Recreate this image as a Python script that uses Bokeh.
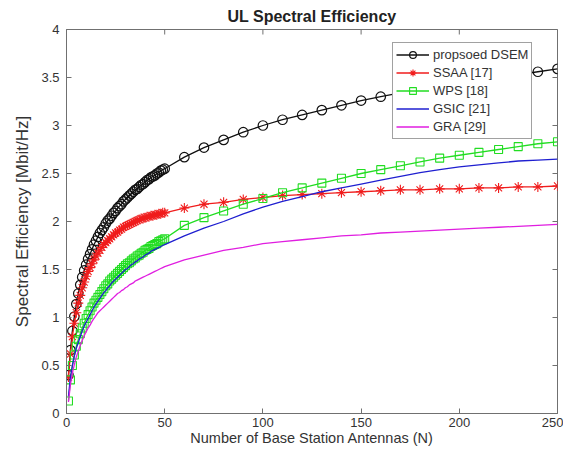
from math import pi
from bokeh.plotting import figure
from bokeh.models import FixedTicker, CustomJSTickFormatter, Legend
from bokeh.embed import file_html
from bokeh.resources import INLINE

# Number of base station antennas
N = [1, 2, 3, 4, 5, 6, 7, 8, 9, 10,
     11, 12, 13, 14, 15, 16, 17, 18, 19, 20,
     21, 22, 23, 24, 25, 26, 27, 28, 29, 30,
     31, 32, 33, 34, 35, 36, 37, 38, 39, 40,
     41, 42, 43, 44, 45, 46, 47, 48, 49, 50,
     60, 70, 80, 90, 100, 110, 120, 130, 140, 150,
     160, 170, 180, 190, 200, 210, 220, 230, 240, 250]

dsem = [0.40, 0.66, 0.86, 1.01, 1.14, 1.25, 1.34, 1.42, 1.49, 1.55,
        1.61, 1.66, 1.71, 1.76, 1.80, 1.84, 1.88, 1.91, 1.94, 1.98,
        2.01, 2.03, 2.06, 2.09, 2.11, 2.14, 2.16, 2.18, 2.21, 2.23,
        2.25, 2.27, 2.29, 2.31, 2.33, 2.34, 2.36, 2.38, 2.39, 2.41,
        2.43, 2.44, 2.46, 2.47, 2.48, 2.50, 2.51, 2.53, 2.54, 2.55,
        2.67, 2.77, 2.85, 2.93, 3.00, 3.06, 3.11, 3.16, 3.21, 3.26,
        3.30, 3.34, 3.37, 3.41, 3.44, 3.47, 3.50, 3.53, 3.56, 3.59]

ssaa = [0.38, 0.62, 0.80, 0.94, 1.05, 1.15, 1.23, 1.31, 1.37, 1.43,
        1.48, 1.52, 1.56, 1.60, 1.64, 1.67, 1.70, 1.73, 1.76, 1.78,
        1.80, 1.82, 1.84, 1.86, 1.88, 1.89, 1.91, 1.92, 1.94, 1.95,
        1.96, 1.97, 1.98, 1.99, 2.00, 2.01, 2.02, 2.03, 2.03, 2.04,
        2.05, 2.05, 2.06, 2.06, 2.07, 2.07, 2.08, 2.08, 2.09, 2.09,
        2.14, 2.18, 2.20, 2.23, 2.25, 2.27, 2.28, 2.29, 2.30, 2.31,
        2.32, 2.33, 2.33, 2.34, 2.34, 2.35, 2.35, 2.36, 2.36, 2.37]

wps = [0.13, 0.35, 0.50, 0.61, 0.70, 0.77, 0.83, 0.89, 0.94, 0.99,
       1.03, 1.07, 1.11, 1.15, 1.18, 1.21, 1.24, 1.27, 1.30, 1.33,
       1.35, 1.38, 1.40, 1.42, 1.44, 1.46, 1.48, 1.50, 1.52, 1.54,
       1.56, 1.57, 1.59, 1.61, 1.62, 1.64, 1.65, 1.67, 1.68, 1.70,
       1.71, 1.72, 1.74, 1.75, 1.76, 1.77, 1.79, 1.80, 1.81, 1.82,
       1.96, 2.04, 2.11, 2.18, 2.24, 2.30, 2.35, 2.40, 2.45, 2.50,
       2.54, 2.58, 2.62, 2.66, 2.69, 2.72, 2.75, 2.78, 2.81, 2.83]

gsic = [0.18, 0.38, 0.50, 0.60, 0.68, 0.74, 0.80, 0.86, 0.91, 0.95,
        0.99, 1.03, 1.07, 1.11, 1.14, 1.17, 1.20, 1.23, 1.26, 1.28,
        1.31, 1.33, 1.36, 1.38, 1.40, 1.42, 1.44, 1.46, 1.48, 1.50,
        1.51, 1.53, 1.55, 1.56, 1.58, 1.59, 1.61, 1.62, 1.63, 1.65,
        1.66, 1.67, 1.69, 1.70, 1.71, 1.72, 1.73, 1.74, 1.75, 1.76,
        1.85, 1.93, 2.00, 2.08, 2.15, 2.21, 2.26, 2.31, 2.35, 2.39,
        2.43, 2.47, 2.51, 2.54, 2.57, 2.59, 2.61, 2.63, 2.64, 2.65]

gra = [0.12, 0.30, 0.42, 0.51, 0.59, 0.65, 0.71, 0.76, 0.81, 0.85,
       0.89, 0.92, 0.96, 0.99, 1.02, 1.05, 1.07, 1.09, 1.11, 1.13,
       1.15, 1.17, 1.19, 1.21, 1.23, 1.25, 1.26, 1.28, 1.29, 1.31,
       1.32, 1.34, 1.35, 1.36, 1.38, 1.39, 1.40, 1.41, 1.42, 1.43,
       1.44, 1.45, 1.46, 1.47, 1.48, 1.49, 1.50, 1.51, 1.52, 1.53,
       1.60, 1.65, 1.70, 1.73, 1.77, 1.79, 1.81, 1.83, 1.85, 1.86,
       1.88, 1.89, 1.90, 1.91, 1.92, 1.93, 1.94, 1.95, 1.96, 1.97]

x_ticks = [0, 50, 100, 150, 200, 250]
y_ticks = [0, 0.5, 1, 1.5, 2, 2.5, 3, 3.5, 4]
x_max = 250
y_max = 4

FONT = "Liberation Sans"
TXT = "#333333"
AX = "#707070"

p = figure(width=563, height=456, x_range=(0, x_max), y_range=(0, y_max),
           output_backend="svg", toolbar_location=None,
           title="UL Spectral Efficiency",
           min_border_left=66, min_border_right=6,
           min_border_top=29, min_border_bottom=43)
p.title.align = "center"
p.title.text_font = FONT
p.title.text_font_size = "16px"
p.title.text_font_style = "bold"
p.title.text_color = "#222222"
p.title.standoff = 9

p.grid.visible = False
p.outline_line_color = AX
p.outline_line_width = 1
p.background_fill_color = "white"
p.border_fill_color = "white"

fmt = CustomJSTickFormatter(code="return tick.toString();")

p.xaxis.ticker = FixedTicker(ticks=x_ticks)
p.yaxis.ticker = FixedTicker(ticks=y_ticks)
p.yaxis.formatter = fmt
p.xaxis.axis_label = "Number of Base Station Antennas (N)"
p.yaxis.axis_label = "Spectral Efficiency [Mbit/Hz]"
for ax in (p.xaxis[0], p.yaxis[0]):
    ax.axis_line_color = AX
    ax.major_tick_line_color = AX
    ax.major_tick_in = 5
    ax.major_tick_out = 0
    ax.minor_tick_line_color = None
    ax.major_label_text_font = FONT
    ax.major_label_text_font_size = "13px"
    ax.major_label_text_color = TXT
    ax.axis_label_text_font = FONT
    ax.axis_label_text_font_style = "normal"
    ax.axis_label_text_color = TXT
p.xaxis.axis_label_text_font_size = "14.5px"
p.yaxis.axis_label_text_font_size = "17px"
p.xaxis.major_label_standoff = 4
p.yaxis.major_label_standoff = 7
p.xaxis.axis_label_standoff = 0
p.yaxis.axis_label_standoff = 6

# box ticks on the top and right edges (inward)
p.scatter(x_ticks, [y_max] * len(x_ticks), marker="dash", angle=pi / 2,
          size=10, line_color=AX, line_width=1)
p.scatter([x_max] * len(y_ticks), y_ticks, marker="dash",
          size=10, line_color=AX, line_width=1)

BLACK = "#111111"
RED = "#f01c1c"
GREEN = "#22dd22"
BLUE = "#1f1fd0"
MAG = "#e01ee0"

l1 = p.line(N, dsem, line_color=BLACK, line_width=1.3)
s1 = p.scatter(N, dsem, marker="circle", size=9.5, line_color=BLACK,
               fill_color=None, line_width=1.2)
l2 = p.line(N, ssaa, line_color=RED, line_width=1.3)
s2 = p.scatter(N, ssaa, marker="asterisk", size=10, line_color=RED,
               line_width=1.1)
l3 = p.line(N, wps, line_color=GREEN, line_width=1.3)
s3 = p.scatter(N, wps, marker="square", size=8, line_color=GREEN,
               fill_color=None, line_width=1.1)
l4 = p.line(N, gsic, line_color=BLUE, line_width=1.3)
l5 = p.line(N, gra, line_color=MAG, line_width=1.3)

legend = Legend(items=[
    ("propsoed DSEM", [l1, s1]),
    ("SSAA [17]", [l2, s2]),
    ("WPS [18]", [l3, s3]),
    ("GSIC [21]", [l4]),
    ("GRA [29]", [l5]),
], location=(326, 274))
legend.label_text_font = FONT
legend.label_text_font_size = "13px"
legend.label_text_color = TXT
legend.glyph_width = 33
legend.glyph_height = 17
legend.label_height = 17
legend.label_standoff = 4
legend.spacing = 1
legend.padding = 3
legend.margin = 0
legend.border_line_color = "#444444"
legend.border_line_width = 1
legend.background_fill_color = "white"
legend.background_fill_alpha = 1
p.add_layout(legend, "center")

open("out.html", "w").write(file_html(p, INLINE))
